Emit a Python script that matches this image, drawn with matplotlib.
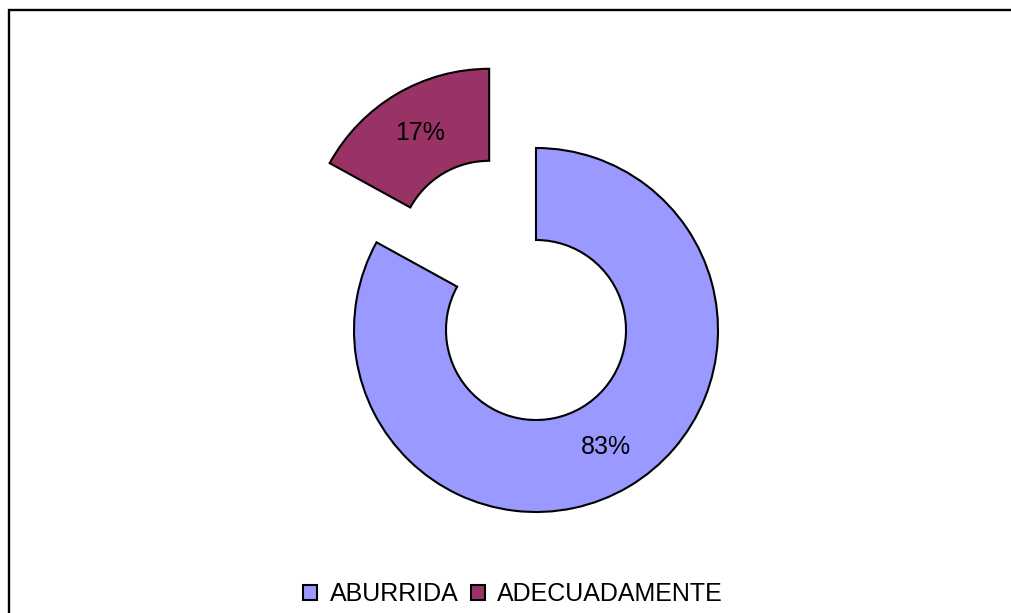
import matplotlib

matplotlib.use("Agg")
import matplotlib.pyplot as plt
from matplotlib.patches import Rectangle

# data
labels = ["ABURRIDA", "ADECUADAMENTE"]
shares = [83, 17]
colors = ["#9999FF", "#993366"]

plt.rcParams["font.family"] = ["Liberation Sans", "DejaVu Sans"]

W, H = 1011, 613
fig = plt.figure(figsize=(W / 100, H / 100), dpi=100)
ax = fig.add_axes([0, 0, 1, 1])

# donut, pixel units (y up)
radius = 182
ring = 92
wedges, texts, pcts = ax.pie(
    shares,
    colors=colors,
    startangle=90,
    counterclock=False,
    center=(536, H - 330),
    radius=radius,
    explode=[0, 92],
    autopct="%1.0f%%",
    pctdistance=0.75,
    wedgeprops=dict(width=ring, edgecolor="black", linewidth=1.5),
    textprops=dict(fontsize=18, color="black"),
    frame=True,
)
ax.set_xlim(0, W)
ax.set_ylim(0, H)
ax.set_aspect("equal", adjustable="box")
ax.axis("off")

# chart area border (runs off right and bottom)
fig.patches.append(
    Rectangle((8.5 / W, -0.05), 1.1, (H - 10) / H + 0.05,
              transform=fig.transFigure, fill=False,
              edgecolor="black", linewidth=1.7)
)

leg = fig.legend(
    wedges, labels,
    loc="center", bbox_to_anchor=(513 / W, 19 / H),
    ncol=2, frameon=False, fontsize=18,
    handlelength=0.55, handleheight=0.55,
    handletextpad=0.5, columnspacing=0.5,
)
for h in leg.legend_handles:
    h.set_edgecolor("black")
    h.set_linewidth(1.5)

fig.savefig("out.png", dpi=100)
